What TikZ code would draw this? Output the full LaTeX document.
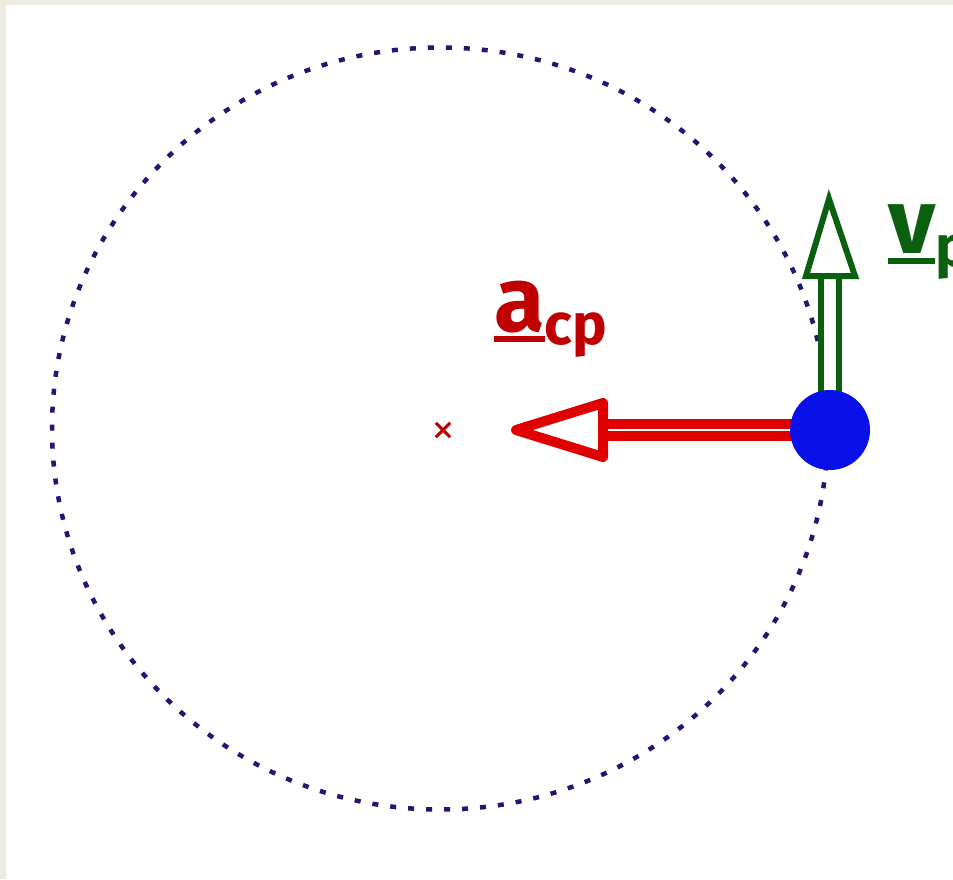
\documentclass[tikz,border=0pt]{standalone}
\usepackage{fontspec}
\setmainfont{Fira Sans}
\definecolor{bgbeige}{HTML}{EDEBE2}
\definecolor{dotblue}{HTML}{1C1A70}
\definecolor{ballblue}{HTML}{0A10E8}
\definecolor{arrred}{HTML}{E00000}
\definecolor{txtred}{HTML}{C00000}
\definecolor{darkgreen}{HTML}{0B600F}
\newcommand\myul[1]{\setbox0\hbox{#1}\rlap{\rule[-0.12em]{\wd0}{0.07em}}\box0}
\tikzset{
  orbit/.style={dotblue, line width=4.5, dash pattern=on 6 off 12},
  ball/.style={circle, fill=ballblue, minimum size=80, inner sep=0},
  headred/.style={draw=arrred, fill=white, line width=10, line join=round},
  shaftred/.style={arrred, line width=10, double=white, double distance=2.5},
  headgreen/.style={draw=darkgreen, fill=white, line width=6, line join=miter},
  shaftgreen/.style={darkgreen, line width=6, double=white, double distance=12},
  lbl/.style={inner sep=0, font=\bfseries\fontsize{92}{94}\selectfont},
}
\begin{document}
\begin{tikzpicture}[x=1pt,y=-1pt]
\useasboundingbox (0,0) rectangle (953,879);
\clip (0,0) rectangle (953,879);
\fill[bgbeige] (0,0) rectangle (953,879);
\fill[white] (6,5) rectangle (953,879);
% orbit
\draw[orbit] (440,428.5) ellipse [x radius=388, y radius=381];
% centre mark
\node[inner sep=0, minimum size=14] (ctr) at (443,430) {};
\draw[txtred, line width=3] (ctr.north west) -- (ctr.south east) (ctr.north east) -- (ctr.south west);
% arrow coordinates
\coordinate (rtip) at (516,430);
\coordinate (rbase) at (600,430);
\coordinate (gtip) at (829,199);
\coordinate (gbase) at (830,276);
% red arrow shaft + head
\draw[shaftred] (rbase) -- (794,430);
\draw[headred] (rtip) -- (603,403) -- (603,457) -- cycle;
% green arrow shaft + head
\draw[shaftgreen] (gbase) -- (830,395);
\draw[headgreen] (gtip) -- (806,276) -- (855,276) -- cycle;
\node[ball] (ball) at (830,430) {};
% labels
\node[lbl, txtred, anchor=base west] (acp) at (494,331) {\myul{a}\raisebox{-13pt}{\fontsize{58}{58}\selectfont cp}};
\node[lbl, darkgreen, anchor=base west] (vp) at (888,253) {\myul{v}\raisebox{-13pt}{\fontsize{58}{58}\selectfont p}};
\end{tikzpicture}
\end{document}
